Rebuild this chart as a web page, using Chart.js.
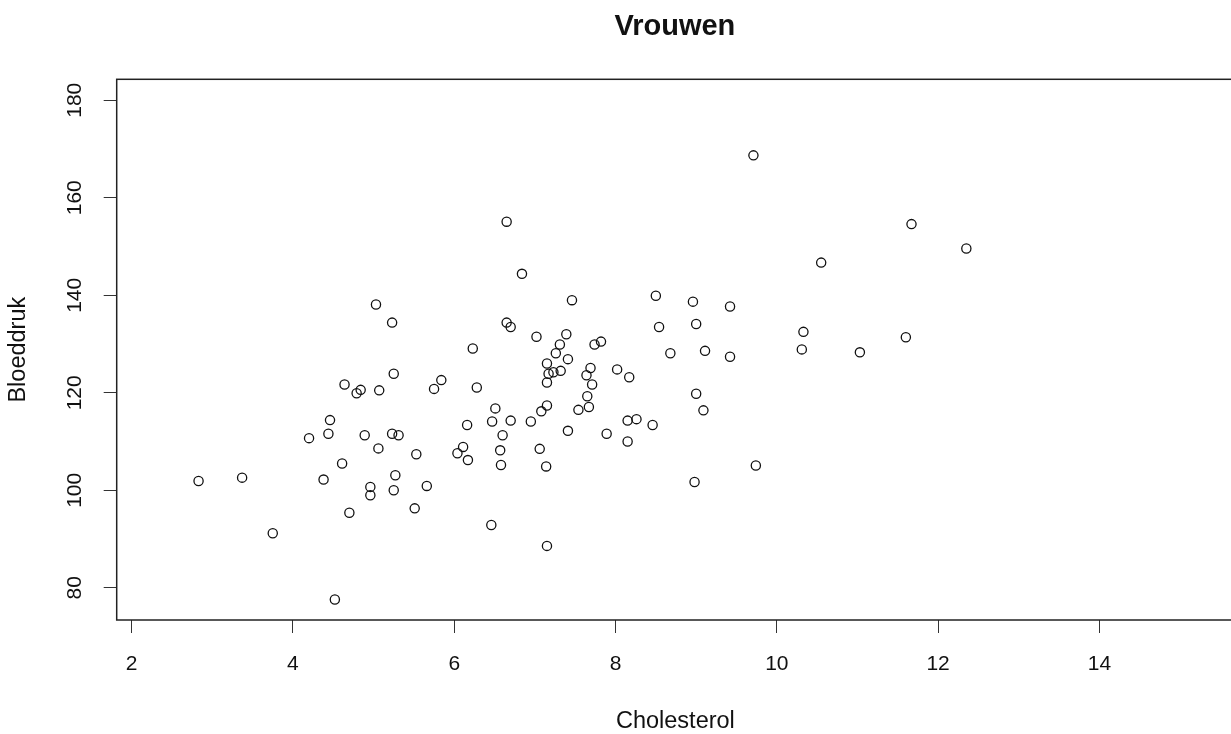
<!DOCTYPE html>
<html>
<head>
<meta charset="utf-8">
<script src="https://cdn.jsdelivr.net/npm/chart.js@4/dist/chart.umd.min.js"></script>
<style>
  html, body { margin: 0; padding: 0; background: #fff; overflow: hidden; }
  #wrap { width: 1240px; height: 734px; }
</style>
</head>
<body>
<div id="wrap"><canvas id="scatterChart"></canvas></div>
<script>
// Vrouwen: cholesterol vs bloeddruk
const cholesterol = [
  2.83, 3.37, 3.75, 4.52, 4.38, 4.61, 4.70, 4.20, 4.44, 4.46,
  4.64, 4.79, 4.84, 5.07, 5.25, 4.89, 5.06, 5.23, 5.31, 5.27,
  5.25, 4.96, 4.96, 5.51, 5.66, 5.53, 5.75, 5.84, 6.28, 6.51,
  6.47, 6.70, 6.16, 6.60, 6.11, 6.04, 6.17, 6.57, 6.58, 6.46,
  5.03, 5.23, 6.23, 6.65, 6.84, 6.65, 6.70, 9.71, 11.67, 10.55,
  7.46, 8.50, 8.96, 9.42, 7.02, 7.39, 7.31, 7.74, 7.82, 8.54,
  9.00, 10.33, 11.60, 10.31, 11.03, 8.68, 9.11, 9.42, 12.35, 7.26,
  7.41, 7.15, 7.17, 7.23, 7.32, 7.15, 7.69, 7.64, 7.71, 8.02,
  8.17, 7.65, 7.67, 7.54, 7.15, 7.08, 6.95, 7.41, 7.89, 8.15,
  8.26, 8.46, 8.15, 7.06, 7.14, 7.15, 9.00, 9.09, 9.74, 8.98
]
const bloeddruk = [
  101.9, 102.6, 91.2, 77.6, 102.2, 105.5, 95.4, 110.7, 111.6, 114.4,
  121.7, 119.9, 120.6, 120.5, 123.9, 111.3, 108.6, 111.6, 111.3, 103.1,
  100.0, 100.7, 99.0, 96.3, 100.9, 107.4, 120.8, 122.6, 121.1, 116.8,
  114.1, 114.3, 113.4, 111.3, 108.9, 107.6, 106.2, 108.2, 105.2, 92.9,
  138.1, 134.4, 129.1, 155.1, 144.4, 134.4, 133.5, 168.7, 154.6, 146.7,
  139.0, 139.9, 138.7, 137.7, 131.5, 132.0, 129.9, 129.9, 130.5, 133.5,
  134.1, 132.5, 131.4, 128.9, 128.3, 128.1, 128.6, 127.4, 149.6, 128.1,
  126.9, 126.0, 123.9, 124.2, 124.5, 122.1, 125.1, 123.6, 121.7, 124.8,
  123.2, 119.3, 117.1, 116.5, 117.4, 116.2, 114.1, 112.2, 111.6, 114.3,
  114.6, 113.4, 110.0, 108.5, 104.9, 88.6, 119.8, 116.4, 105.1, 101.7
]
const chartTitle = "Vrouwen"
const xLabel = "Cholesterol"
const yLabel = "Bloeddruk"
const xRange = [1.815, 15.67]
const yRange = [73.4, 184.3]

const FONT = "'Liberation Sans', Arial, sans-serif"
const INK = "#111"

// R-style box round the plot area plus the main title
const framePlugin = {
  id: "frame",
  afterDraw(chart) {
    const { ctx, chartArea } = chart
    ctx.save()
    ctx.strokeStyle = "#222"
    ctx.lineWidth = 1.5
    ctx.strokeRect(chartArea.left, chartArea.top, chartArea.right - chartArea.left, chartArea.bottom - chartArea.top)
    ctx.fillStyle = INK
    ctx.font = "bold 29px " + FONT
    ctx.textAlign = "center"
    ctx.textBaseline = "alphabetic"
    // title centred over the (partly cropped) plot region
    ctx.fillText(chartTitle, (chartArea.left + 1233) / 2, 35)
    ctx.restore()
  },
}

const points = cholesterol.map((x, i) => ({ x: x, y: bloeddruk[i] }))

new Chart(document.getElementById("scatterChart"), {
  type: "scatter",
  data: {
    datasets: [
      {
        data: points,
        pointStyle: "circle",
        pointRadius: 4.6,
        pointHoverRadius: 4.6,
        borderWidth: 1.3,
        borderColor: "#111",
        backgroundColor: "rgba(0,0,0,0)",
      },
    ],
  },
  options: {
    responsive: true,
    maintainAspectRatio: false,
    animation: false,
    layout: { padding: { top: 79.3, right: 1, bottom: 0, left: 0 } },
    plugins: {
      legend: { display: false },
      tooltip: { enabled: false },
      title: { display: false },
    },
    scales: {
      x: {
        type: "linear",
        min: xRange[0],
        max: xRange[1],
        afterFit: (scale) => { scale.height = 114 },
        grid: { drawOnChartArea: false, drawTicks: true, tickLength: 13, color: "#333", lineWidth: 1 },
        border: { display: false },
        ticks: {
          stepSize: 2,
          includeBounds: false,
          maxRotation: 0,
          padding: 19,
          color: INK,
          font: { family: FONT, size: 21 },
        },
        title: {
          display: true,
          text: xLabel,
          color: INK,
          font: { family: FONT, size: 23.5, lineHeight: 1 },
          padding: { top: 0, bottom: 1 },
        },
      },
      y: {
        type: "linear",
        min: yRange[0],
        max: yRange[1],
        afterFit: (scale) => { scale.width = 116.7 },
        grid: { drawOnChartArea: false, drawTicks: true, tickLength: 13, color: "#333", lineWidth: 1 },
        border: { display: false },
        ticks: {
          stepSize: 20,
          includeBounds: false,
          minRotation: 90,
          maxRotation: 90,
          crossAlign: "center",
          padding: 11,
          color: INK,
          font: { family: FONT, size: 21 },
        },
        title: {
          display: true,
          text: yLabel,
          color: INK,
          font: { family: FONT, size: 23.5, lineHeight: 1 },
          padding: { top: 7, bottom: 0 },
        },
      },
    },
  },
  plugins: [framePlugin],
})
</script>
</body>
</html>
